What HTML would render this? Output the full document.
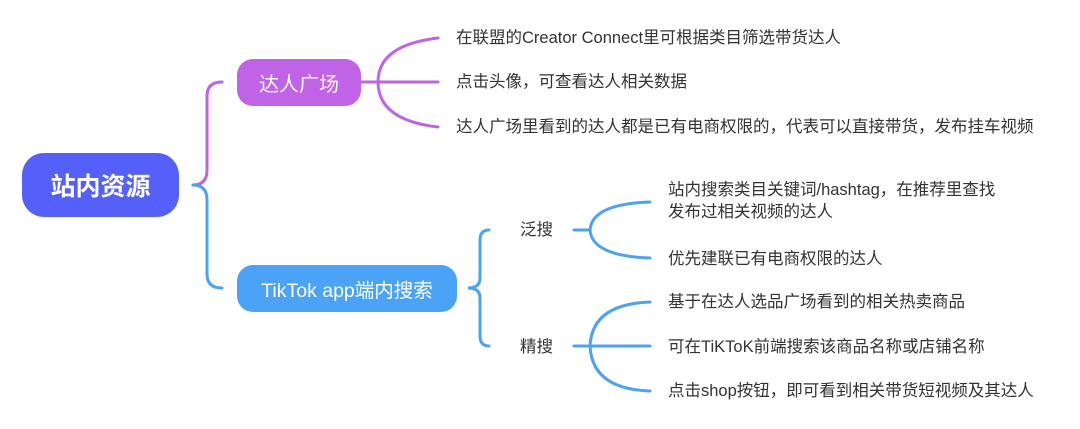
<!DOCTYPE html>
<html><head><meta charset="utf-8"><style>
body{margin:0;width:1080px;height:429px;background:#fff;position:relative;overflow:hidden;font-family:"Liberation Sans","Noto Sans CJK SC",sans-serif}
.b{position:absolute;color:#fff;display:flex;align-items:center;justify-content:center}
.t{position:absolute;font-size:16.5px;color:#333;line-height:22px;white-space:nowrap}
</style></head><body>
<svg width="1080" height="429" style="position:absolute;left:0;top:0" fill="none" stroke-width="3" stroke-linecap="round">
<path d="M193 185 Q207 185 207 170 L207 96 Q207 82 222 82" stroke="#c163e6"/>
<path d="M193 185 Q207 185 207 200 L207 274 Q207 288 222 288" stroke="#4ba3f8"/>
<path d="M360 82 L438 82 M378 82 Q378 45 438 38 M378 82 Q378 120 438 127" stroke="#c163e6"/>
<path d="M489 230 Q480 230 480 240 L480 278 Q480 288 468 288 Q480 288 480 298 L480 336 Q480 346 489 346" stroke="#4ba3f8"/>
<path d="M574 230 L590 230 M590 230 Q592 204 650 202 M590 230 Q592 256 650 258" stroke="#4ba3f8"/>
<path d="M574 346 L650 346 M590 346 Q592 304 650 302 M590 346 Q592 389 650 391" stroke="#4ba3f8"/>
</svg>
<div class="b" style="left:22px;top:153px;width:157px;height:64px;background:#5560fb;border-radius:22px;font-size:25px;font-weight:bold">站内资源</div>
<div class="b" style="left:237px;top:59px;width:124px;height:47px;background:#c163e6;border-radius:16px;font-size:20px">达人广场</div>
<div class="b" style="left:237px;top:265px;width:220px;height:47px;background:#4ba3f8;border-radius:16px;font-size:19.5px">TikTok app端内搜索</div>
<div class="t" style="left:456px;top:27px">在联盟的Creator Connect里可根据类目筛选带货达人</div>
<div class="t" style="left:456px;top:71px">点击头像，可查看达人相关数据</div>
<div class="t" style="left:456px;top:116px">达人广场里看到的达人都是已有电商权限的，代表可以直接带货，发布挂车视频</div>
<div class="t" style="left:520px;top:219px">泛搜</div>
<div class="t" style="left:520px;top:336px">精搜</div>
<div class="t" style="left:668px;top:179px">站内搜索类目关键词/hashtag，在推荐里查找<br>发布过相关视频的达人</div>
<div class="t" style="left:668px;top:248px">优先建联已有电商权限的达人</div>
<div class="t" style="left:668px;top:291px">基于在达人选品广场看到的相关热卖商品</div>
<div class="t" style="left:668px;top:336px">可在TiKToK前端搜索该商品名称或店铺名称</div>
<div class="t" style="left:668px;top:380px">点击shop按钮，即可看到相关带货短视频及其达人</div>
</body></html>
